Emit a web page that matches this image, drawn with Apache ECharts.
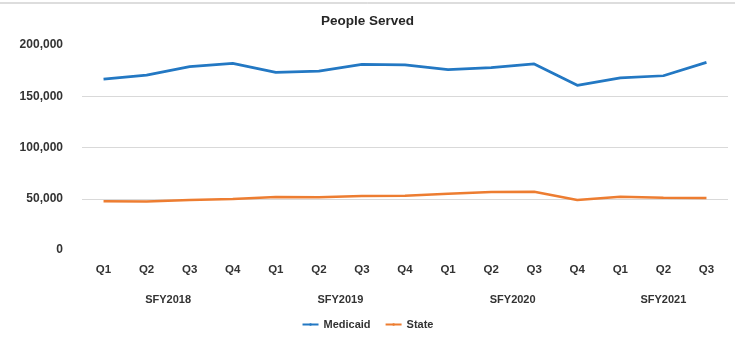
<!DOCTYPE html>
<html>
<head>
<meta charset="utf-8">
<script src="https://cdn.jsdelivr.net/npm/echarts@6/dist/echarts.min.js"></script>
<style>html,body{margin:0;padding:0;background:#fff}#c{width:735px;height:344px}</style>
</head>
<body>
<div id="c"></div>
<script>
const quarters = ['Q1','Q2','Q3','Q4','Q1','Q2','Q3','Q4','Q1','Q2','Q3','Q4','Q1','Q2','Q3'];
const years = ['SFY2018','SFY2019','SFY2020','SFY2021'];
const quartersPerYear = [4,4,4,3];
const medicaid = [166800,170700,178900,182000,173300,174600,181000,180500,176000,177900,181500,160700,168000,170000,183000];
const state = [47500,47300,48800,49800,51700,51400,52700,53000,54800,56600,56900,48800,52000,51000,50700];
const yTicks = [0,50000,100000,150000,200000];

// year label positions: centres of their quarter groups (in category index units)
const yearCenters = [];
let start = 0;
quartersPerYear.forEach(n => { yearCenters.push(start + (n - 1) / 2); start += n; });

const chart = echarts.init(document.getElementById('c'));
const font = '"Liberation Sans", Arial, sans-serif';
chart.setOption({
  animation: false,
  title: {
    text: 'People Served', left: 'center', top: 9,
    textStyle: { fontFamily: font, fontSize: 13.5, fontWeight: 'bold', color: '#262626' }
  },
  grid: { left: 82, right: 7, top: 45, bottom: 94 },
  legend: {
    bottom: 9, left: 'center', itemWidth: 16, itemHeight: 3, itemGap: 14,
    textStyle: { fontFamily: font, fontSize: 11, fontWeight: 'bold', color: '#333' },
    data: ['Medicaid', 'State']
  },
  xAxis: [
    {
      type: 'category', data: quarters, boundaryGap: true,
      axisLine: { show: false }, axisTick: { show: false },
      axisLabel: { margin: 14, fontFamily: font, fontSize: 11.5, fontWeight: 'bold', color: '#333', interval: 0 }
    },
    {
      type: 'value', position: 'bottom', offset: 30,
      min: -0.5, max: quarters.length - 0.5,
      axisLine: { show: false }, axisTick: { show: false }, splitLine: { show: false },
      axisLabel: {
        customValues: yearCenters, margin: 14,
        fontFamily: font, fontSize: 11, fontWeight: 'bold', color: '#333',
        formatter: v => { const i = yearCenters.indexOf(v); return i >= 0 ? years[i] : ''; }
      }
    }
  ],
  yAxis: {
    type: 'value', min: 0, max: 200000, interval: 50000,
    axisLine: { show: false }, axisTick: { show: false },
    splitLine: { showMinLine: false, showMaxLine: false, lineStyle: { color: '#d9d9d9', width: 1 } },
    axisLabel: {
      margin: 19, fontFamily: font, fontSize: 12, fontWeight: 'bold', color: '#333',
      formatter: v => yTicks.indexOf(v) >= 0 ? v.toLocaleString('en-US') : ''
    }
  },
  graphic: [{
    type: 'line', shape: { x1: 0, y1: 3, x2: 735, y2: 3 },
    style: { stroke: '#bbbbbb', lineWidth: 1 }
  }],
  series: [
    {
      name: 'Medicaid', type: 'line', xAxisIndex: 0, data: medicaid, symbol: 'none',
      lineStyle: { color: '#2378c3', width: 2.75 }, itemStyle: { color: '#2378c3' }
    },
    {
      name: 'State', type: 'line', xAxisIndex: 0, data: state, symbol: 'none',
      lineStyle: { color: '#ed7d31', width: 2.5 }, itemStyle: { color: '#ed7d31' }
    }
  ]
});
</script>
</body>
</html>
